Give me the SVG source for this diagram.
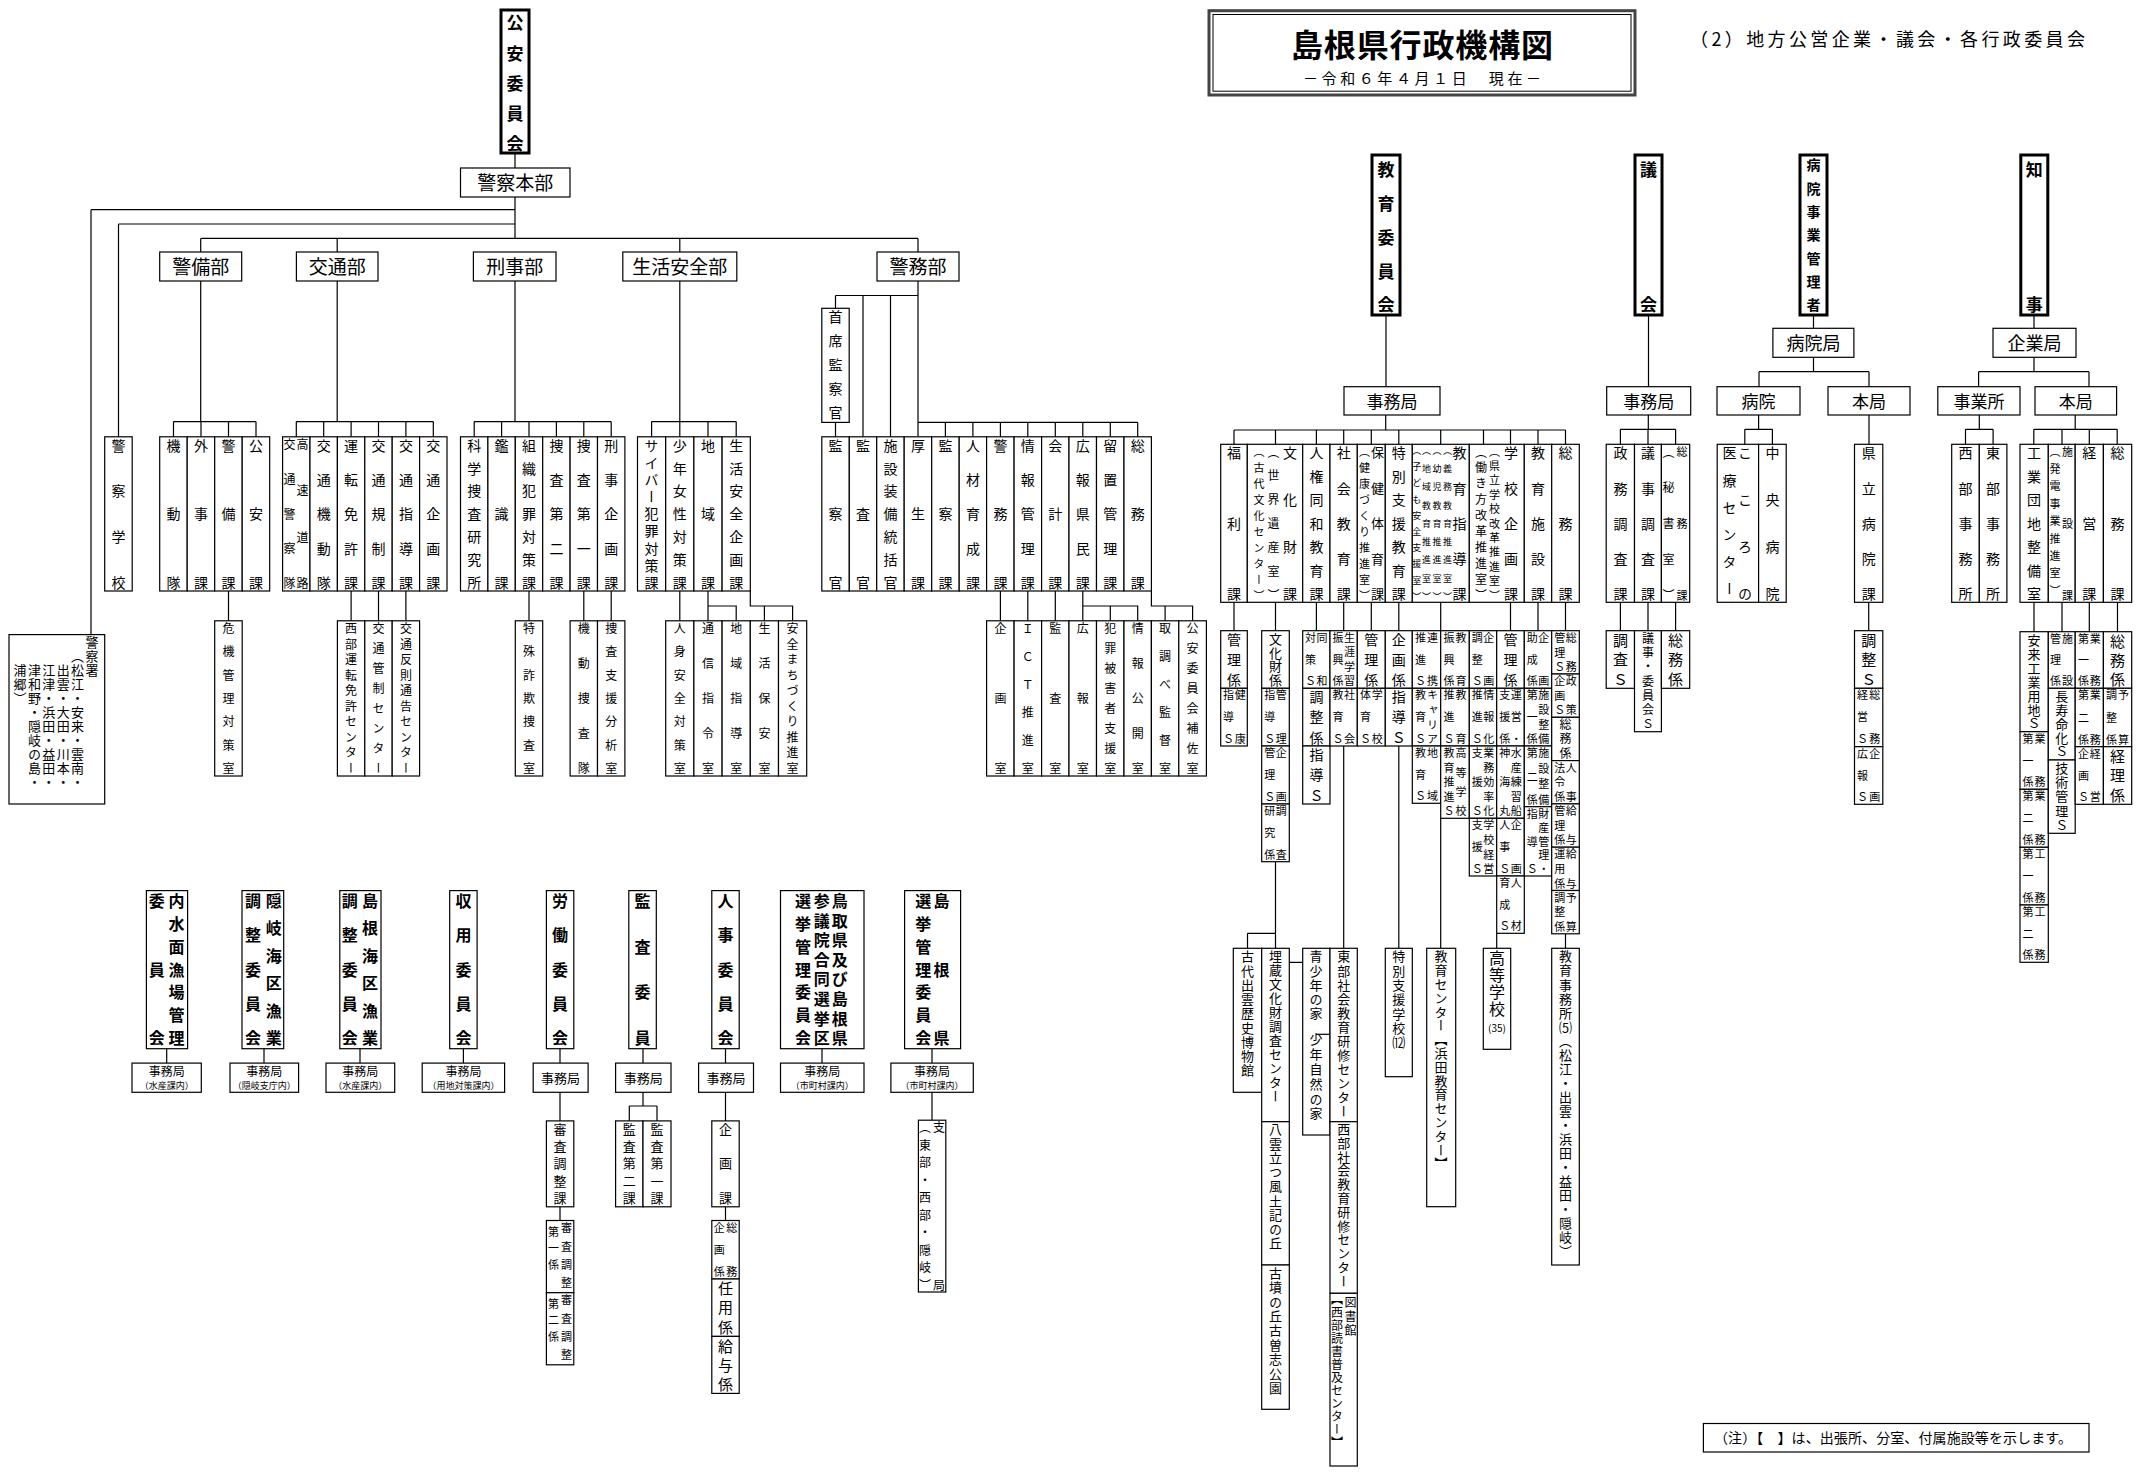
<svg xmlns="http://www.w3.org/2000/svg" width="2140" height="1477" viewBox="0 0 2140 1477">
<style>
text{font-family:"Noto Sans CJK JP","Noto Sans CJK SC",sans-serif;fill:#000}
.v{writing-mode:vertical-rl}
.r{fill:#fff;stroke:#000;stroke-width:1.2}
.k{fill:#fff;stroke:#000;stroke-width:3}
.c{fill:none;stroke:#000;stroke-width:1.2}
.m{text-anchor:middle}
.b{font-weight:700}
.f9{font-size:9px}.f10{font-size:10px}.f11{font-size:11px}.f12{font-size:12px}.f13{font-size:13px}.f14{font-size:14px}.f15{font-size:15px}.f16{font-size:16px}.f17{font-size:17px}.f18{font-size:18px}.f19{font-size:19px}
</style>
<rect width="2140" height="1477" fill="#fff"/>
<g id="connectors">
<path class="c" d="M515 153V168M515 197V238.4M91 209.7H515M91 209.7V634.6M118.5 224H515M118.5 224V436.8M200.7 238.4H918M200.7 238.4V252M337.2 238.4V252M679.8 238.4V252M918 238.4V252
M200.7 281V421.6M173.5 421.6H256M173.5 421.6V436.8M201 421.6V436.8M228.5 421.6V436.8M256 421.6V436.8
M337.2 281V421.6M296.3 421.6H433.3M296.3 421.6V436.8M323.7 421.6V436.8M351.1 421.6V436.8M378.5 421.6V436.8M405.9 421.6V436.8M433.3 421.6V436.8
M515 281V421.6M474.2 421.6H611.2M474.2 421.6V436.8M501.6 421.6V436.8M529 421.6V436.8M556.4 421.6V436.8M583.8 421.6V436.8M611.2 421.6V436.8
M679.8 281V421.6M651.6 421.6H736.2M651.6 421.6V436.8M679.8 421.6V436.8M708 421.6V436.8M736.2 421.6V436.8
M918 281V422.4M835.5 295.5H918M835.5 295.5V308.3M863 295.5V436.8M890.5 295.5V436.8M835.5 422.4V436.8M918 422.4H1137.7M945.4 422.4V436.8M972.9 422.4V436.8M1000.4 422.4V436.8M1027.8 422.4V436.8M1055.3 422.4V436.8M1082.8 422.4V436.8M1110.3 422.4V436.8M1137.7 422.4V436.8M918 422.4V436.8
M228.5 591V620.8M351.1 591V620.8M378.5 591V620.8M405.9 591V620.8M529 591V620.8M583.8 591V620.8M611.2 591V620.8M679.8 591V620.8
M708 591V620.8M708 606H736.2V620.8M750.3 591V606H792.6V620.8M764.4 606V620.8
M1000.4 591V620.8M1027.8 591V620.8M1055.3 591V620.8M1082.8 591V620.8M1082.8 606H1137.7V620.8M1110.3 606V620.8M1151.4 591V606H1192.6V620.8M1165.1 606V620.8
M1386 315V386.7M1385.7 415V430M1234 430H1565.5M1234 430V444.3M1275.5 430V444.3M1316.4 430V444.3M1343.7 430V444.3M1371.3 430V444.3M1398.8 430V444.3M1440.7 430V444.3M1483.5 430V444.3M1510.5 430V444.3M1538 430V444.3M1565.5 430V444.3
M1234 602.3V630.7M1275.5 602.3V630.7M1316.4 602.3V630.7M1343.7 602.3V630.7M1371.3 602.3V630.7M1398.8 602.3V630.7M1440.7 602.3V630.7M1510.5 602.3V630.7M1538 602.3V630.7M1565.5 602.3V630.7
M1275.5 861.7V948.3M1247.5 933.3H1275.5M1247.5 933.3V948.3M1289.3 962.3H1302.7M1343.7 746V948.3M1398.8 746V948.3M1440.7 818.3V948.3M1496.7 933.3V948.3M1565.5 933.8V948.3
M1648.5 315V386.7M1648.3 415V429.3M1620.4 429.3H1675.6M1620.4 429.3V444.3M1648 429.3V444.3M1675.6 429.3V444.3M1620.4 602.3V630.7M1648 602.3V630.7M1675.6 602.3V630.7
M1813.5 315V328.3M1813.5 357.3V371.7M1759 371.7H1869M1759 371.7V386.7M1869 371.7V386.7M1758.6 415V429.3M1744.8 429.3H1772.4M1744.8 429.3V444.3M1772.4 429.3V444.3M1869 415V444.3M1868.7 602.3V630.7
M2034 315V328.3M2034 357.3V371.7M1978.6 371.7H2089M1978.6 371.7V386.7M2089 371.7V386.7M1979.3 415V429.3M1965.5 429.3H1993.1M1965.5 429.3V444.3M1993.1 429.3V444.3M2075.2 415V429.3M2033.8 429.3H2117.2M2033.8 429.3V444.3M2062 429.3V444.3M2089.3 429.3V444.3M2117.2 429.3V444.3M2034 602.3V631.7M2062 602.3V631.7M2089.3 602.3V631.7M2117.5 602.3V631.7
M166.7 1048.7V1063.1M264 1048.7V1063.1M360 1048.7V1063.1M463.4 1048.7V1063.1M560 1048.7V1063.1M643 1048.7V1063.1M725.5 1048.7V1063.1M822 1048.7V1063.1M932 1048.7V1063.1
M560 1092.3V1120.9M560 1206.8V1220.5M643 1092.3V1106M629.3 1106H657M629.3 1106V1120.9M657 1106V1120.9M725.5 1092.3V1120.9M725.5 1206.8V1220.5M932 1092.3V1120.2"/>
</g>
<g id="title"><rect x="1209" y="10.7" width="426" height="84.3" fill="#fff" stroke="#444" stroke-width="3"/><rect x="1213" y="14.5" width="418" height="76.7" fill="none" stroke="#000" stroke-width="1"/><text class="m b" x="1422" y="57" style="font-size:32px" textLength="262">島根県行政機構図</text><text class="m f15" x="1422" y="84" textLength="238">－令和６年４月１日　現在－</text></g>
<g id="subtitle"><text class="f18" x="1690" y="46" textLength="395">（2）地方公営企業・議会・各行政委員会</text></g>
<g id="note"><rect class="r" x="1703.4" y="1423.5" width="385.6" height="28.5"/><text class="f14" x="1714" y="1443" textLength="358">（注）【　】は、出張所、分室、付属施設等を示します。</text></g>
<!-- police -->
<g id="p-koan"><rect class="k" x="501" y="10" width="28" height="143"/><text class="v b f17" x="515" y="14.5" textLength="138">公安委員会</text></g>
<g id="p-honbu"><rect class="r" x="460.5" y="168" width="109.5" height="29"/><text class="m f19" x="515.2" y="189.5">警察本部</text></g>
<g id="p-keibibu"><rect class="r" x="159.7" y="252" width="82" height="29"/><text class="m f19" x="200.7" y="273.5">警備部</text></g>
<g id="p-kotsubu"><rect class="r" x="296.4" y="252" width="81.6" height="29"/><text class="m f19" x="337.2" y="273.5">交通部</text></g>
<g id="p-keijibu"><rect class="r" x="473.4" y="252" width="82.6" height="29"/><text class="m f19" x="514.7" y="273.5">刑事部</text></g>
<g id="p-seikatsubu"><rect class="r" x="622.8" y="252" width="114" height="29"/><text class="m f19" x="679.8" y="273.5">生活安全部</text></g>
<g id="p-keimubu"><rect class="r" x="877" y="252" width="82" height="29"/><text class="m f19" x="918" y="273.5">警務部</text></g>
<g id="p-keisatsusho"><rect class="r" x="9" y="634.6" width="95.7" height="169.4"/><text class="v f13" x="92" y="635.5" style="letter-spacing:1px">警察署</text><text class="v f13" x="77.6" y="649.5" style="letter-spacing:1px">（松江・安来・雲南・</text><text class="v f13" x="63.2" y="663.5" style="letter-spacing:1px">出雲・大田・川本・</text><text class="v f13" x="48.8" y="663.5" style="letter-spacing:1px">江津・浜田・益田・</text><text class="v f13" x="34.4" y="663.5" style="letter-spacing:1px">津和野・隠岐の島・</text><text class="v f13" x="20" y="663.5" style="letter-spacing:1px">浦郷）</text></g>
<g id="p-gakko"><rect class="r" x="104.7" y="436.8" width="27.5" height="154.2"/><text class="v f14" x="118.5" y="438.5" textLength="151">警察学校</text></g>
<g id="p-kidotai"><rect class="r" x="159.7" y="436.8" width="27.5" height="154.2"/><text class="v f14" x="173.5" y="438.5" textLength="151">機動隊</text></g>
<g id="p-gaiji"><rect class="r" x="187.2" y="436.8" width="27.5" height="154.2"/><text class="v f14" x="201" y="438.5" textLength="151">外事課</text></g>
<g id="p-keibika"><rect class="r" x="214.7" y="436.8" width="27.5" height="154.2"/><text class="v f14" x="228.5" y="438.5" textLength="151">警備課</text></g>
<g id="p-koanka"><rect class="r" x="242.2" y="436.8" width="27.5" height="154.2"/><text class="v f14" x="256" y="438.5" textLength="151">公安課</text></g>
<g id="p-kosoku"><rect class="r" x="282.6" y="436.8" width="27.4" height="154.2"/><text class="v f12" x="302.5" y="438.5" textLength="151">高速道路</text><text class="v f12" x="289.5" y="438.5" textLength="151">交通警察隊</text></g>
<g id="p-kotsukido"><rect class="r" x="310" y="436.8" width="27.4" height="154.2"/><text class="v f14" x="323.7" y="438.5" textLength="151">交通機動隊</text></g>
<g id="p-menkyo"><rect class="r" x="337.4" y="436.8" width="27.4" height="154.2"/><text class="v f14" x="351.1" y="438.5" textLength="151">運転免許課</text></g>
<g id="p-kisei"><rect class="r" x="364.8" y="436.8" width="27.4" height="154.2"/><text class="v f14" x="378.5" y="438.5" textLength="151">交通規制課</text></g>
<g id="p-kotsushido"><rect class="r" x="392.2" y="436.8" width="27.4" height="154.2"/><text class="v f14" x="405.9" y="438.5" textLength="151">交通指導課</text></g>
<g id="p-kotsukikaku"><rect class="r" x="419.6" y="436.8" width="27.4" height="154.2"/><text class="v f14" x="433.3" y="438.5" textLength="151">交通企画課</text></g>
<g id="p-kaken"><rect class="r" x="460.5" y="436.8" width="27.4" height="154.2"/><text class="v f14" x="474.2" y="438.5" textLength="151">科学捜査研究所</text></g>
<g id="p-kanshiki"><rect class="r" x="487.9" y="436.8" width="27.4" height="154.2"/><text class="v f14" x="501.6" y="438.5" textLength="151">鑑識課</text></g>
<g id="p-soshiki"><rect class="r" x="515.3" y="436.8" width="27.4" height="154.2"/><text class="v f14" x="529" y="438.5" textLength="151">組織犯罪対策課</text></g>
<g id="p-sosa2"><rect class="r" x="542.7" y="436.8" width="27.4" height="154.2"/><text class="v f14" x="556.4" y="438.5" textLength="151">捜査第二課</text></g>
<g id="p-sosa1"><rect class="r" x="570.1" y="436.8" width="27.4" height="154.2"/><text class="v f14" x="583.8" y="438.5" textLength="151">捜査第一課</text></g>
<g id="p-keijikikaku"><rect class="r" x="597.5" y="436.8" width="27.4" height="154.2"/><text class="v f14" x="611.2" y="438.5" textLength="151">刑事企画課</text></g>
<g id="p-cyber"><rect class="r" x="637.5" y="436.8" width="28.2" height="154.2"/><text class="v f14" x="651.6" y="438.5" textLength="151">サイバー犯罪対策課</text></g>
<g id="p-shonen"><rect class="r" x="665.7" y="436.8" width="28.2" height="154.2"/><text class="v f14" x="679.8" y="438.5" textLength="151">少年女性対策課</text></g>
<g id="p-chiiki"><rect class="r" x="693.9" y="436.8" width="28.2" height="154.2"/><text class="v f14" x="708" y="438.5" textLength="151">地域課</text></g>
<g id="p-seikatsukikaku"><rect class="r" x="722.1" y="436.8" width="28.2" height="154.2"/><text class="v f14" x="736.2" y="438.5" textLength="151">生活安全企画課</text></g>
<g id="p-shuseki"><rect class="r" x="821.8" y="308.3" width="27.4" height="114.1"/><text class="v f14" x="835.5" y="310" textLength="110">首席監察官</text></g>
<g id="p-kansatsukan"><rect class="r" x="821.8" y="436.8" width="27.5" height="154.2"/><text class="v f14" x="835.5" y="438.5" textLength="151">監察官</text></g>
<g id="p-kansakan"><rect class="r" x="849.3" y="436.8" width="27.4" height="154.2"/><text class="v f14" x="863" y="438.5" textLength="151">監査官</text></g>
<g id="p-shisetsu"><rect class="r" x="876.7" y="436.8" width="27.5" height="154.2"/><text class="v f14" x="890.5" y="438.5" textLength="151">施設装備統括官</text></g>
<g id="p-kosei"><rect class="r" x="904.2" y="436.8" width="27.5" height="154.2"/><text class="v f14" x="918" y="438.5" textLength="151">厚生課</text></g>
<g id="p-kansatsuka"><rect class="r" x="931.7" y="436.8" width="27.5" height="154.2"/><text class="v f14" x="945.4" y="438.5" textLength="151">監察課</text></g>
<g id="p-jinzai"><rect class="r" x="959.2" y="436.8" width="27.4" height="154.2"/><text class="v f14" x="972.9" y="438.5" textLength="151">人材育成課</text></g>
<g id="p-keimuka"><rect class="r" x="986.6" y="436.8" width="27.5" height="154.2"/><text class="v f14" x="1000.4" y="438.5" textLength="151">警務課</text></g>
<g id="p-joho"><rect class="r" x="1014.1" y="436.8" width="27.5" height="154.2"/><text class="v f14" x="1027.8" y="438.5" textLength="151">情報管理課</text></g>
<g id="p-kaikei"><rect class="r" x="1041.6" y="436.8" width="27.4" height="154.2"/><text class="v f14" x="1055.3" y="438.5" textLength="151">会計課</text></g>
<g id="p-koho"><rect class="r" x="1069" y="436.8" width="27.5" height="154.2"/><text class="v f14" x="1082.8" y="438.5" textLength="151">広報県民課</text></g>
<g id="p-ryuchi"><rect class="r" x="1096.5" y="436.8" width="27.5" height="154.2"/><text class="v f14" x="1110.3" y="438.5" textLength="151">留置管理課</text></g>
<g id="p-somuka"><rect class="r" x="1124" y="436.8" width="27.4" height="154.2"/><text class="v f14" x="1137.7" y="438.5" textLength="151">総務課</text></g>
<g id="p-kiki"><rect class="r" x="214.7" y="620.8" width="27.5" height="155.2"/><text class="v f12" x="228.5" y="622.5" textLength="152">危機管理対策室</text></g>
<g id="p-seibumenkyo"><rect class="r" x="337.4" y="620.8" width="27.4" height="155.2"/><text class="v f12" x="351.1" y="622.5" textLength="152">西部運転免許センター</text></g>
<g id="p-kansei"><rect class="r" x="364.8" y="620.8" width="27.4" height="155.2"/><text class="v f12" x="378.5" y="622.5" textLength="152">交通管制センター</text></g>
<g id="p-hansoku"><rect class="r" x="392.2" y="620.8" width="27.4" height="155.2"/><text class="v f12" x="405.9" y="622.5" textLength="152">交通反則通告センター</text></g>
<g id="p-tokusagi"><rect class="r" x="515.3" y="620.8" width="27.4" height="155.2"/><text class="v f12" x="529" y="622.5" textLength="152">特殊詐欺捜査室</text></g>
<g id="p-kidososa"><rect class="r" x="570.1" y="620.8" width="27.4" height="155.2"/><text class="v f12" x="583.8" y="622.5" textLength="152">機動捜査隊</text></g>
<g id="p-sosashien"><rect class="r" x="597.5" y="620.8" width="27.4" height="155.2"/><text class="v f12" x="611.2" y="622.5" textLength="152">捜査支援分析室</text></g>
<g id="p-jinshin"><rect class="r" x="665.7" y="620.8" width="28.2" height="155.2"/><text class="v f12" x="679.8" y="622.5" textLength="152">人身安全対策室</text></g>
<g id="p-tsushin"><rect class="r" x="693.9" y="620.8" width="28.2" height="155.2"/><text class="v f12" x="708" y="622.5" textLength="152">通信指令室</text></g>
<g id="p-chiikishido"><rect class="r" x="722.1" y="620.8" width="28.2" height="155.2"/><text class="v f12" x="736.2" y="622.5" textLength="152">地域指導室</text></g>
<g id="p-hoan"><rect class="r" x="750.3" y="620.8" width="28.2" height="155.2"/><text class="v f12" x="764.4" y="622.5" textLength="152">生活保安室</text></g>
<g id="p-machizukuri"><rect class="r" x="778.5" y="620.8" width="28.2" height="155.2"/><text class="v f12" x="792.6" y="622.5" textLength="152">安全まちづくり推進室</text></g>
<g id="p-kikakushitsu"><rect class="r" x="986.6" y="620.8" width="27.5" height="155.2"/><text class="v f12" x="1000.4" y="622.5" textLength="152">企画室</text></g>
<g id="p-ict"><rect class="r" x="1014.1" y="620.8" width="27.5" height="155.2"/><text class="v f12" x="1027.8" y="622.5" textLength="152">ＩＣＴ推進室</text></g>
<g id="p-kansashitsu"><rect class="r" x="1041.6" y="620.8" width="27.4" height="155.2"/><text class="v f12" x="1055.3" y="622.5" textLength="152">監査室</text></g>
<g id="p-kohoshitsu"><rect class="r" x="1069" y="620.8" width="27.5" height="155.2"/><text class="v f12" x="1082.8" y="622.5" textLength="152">広報室</text></g>
<g id="p-higaisha"><rect class="r" x="1096.5" y="620.8" width="27.5" height="155.2"/><text class="v f12" x="1110.3" y="622.5" textLength="152">犯罪被害者支援室</text></g>
<g id="p-kokai"><rect class="r" x="1124" y="620.8" width="27.4" height="155.2"/><text class="v f12" x="1137.7" y="622.5" textLength="152">情報公開室</text></g>
<g id="p-torishirabe"><rect class="r" x="1151.4" y="620.8" width="27.4" height="155.2"/><text class="v f12" x="1165.1" y="622.5" textLength="152">取調べ監督室</text></g>
<g id="p-hosa"><rect class="r" x="1178.8" y="620.8" width="27.6" height="155.2"/><text class="v f12" x="1192.6" y="622.5" textLength="152">公安委員会補佐室</text></g>
<!-- education -->
<g id="e-iinkai"><rect class="k" x="1372" y="155" width="28" height="160"/><text class="v b f17" x="1386" y="161.5" textLength="152">教育委員会</text></g>
<g id="e-jimukyoku"><rect class="r" x="1344" y="386.7" width="96" height="28.3"/><text class="m f17" x="1392" y="407.5">事務局</text></g>
<g id="e-fukurika"><rect class="r" x="1220.7" y="444.3" width="26.6" height="158"/><text class="v f14" x="1234" y="446" textLength="155">福利課</text></g>
<g id="e-bunkazaika"><rect class="r" x="1247.3" y="444.3" width="55.4" height="158"/><text class="v f14" x="1290" y="446" textLength="155">文化財課</text><text class="v f12" x="1273.5" y="446" textLength="155">（世界遺産室）</text><text class="v f11" x="1259" y="446" textLength="155">（古代文化センター）</text></g>
<g id="e-jinkenka"><rect class="r" x="1302.7" y="444.3" width="27.3" height="158"/><text class="v f14" x="1316.4" y="446" textLength="155">人権同和教育課</text></g>
<g id="e-shakaika"><rect class="r" x="1330" y="444.3" width="27.3" height="158"/><text class="v f14" x="1343.7" y="446" textLength="155">社会教育課</text></g>
<g id="e-hokenka"><rect class="r" x="1357.3" y="444.3" width="28" height="158"/><text class="v f13" x="1377.5" y="446" textLength="155">保健体育課</text><text class="v f11" x="1364.5" y="446" textLength="155">（健康づくり推進室）</text></g>
<g id="e-tokubetsuka"><rect class="r" x="1385.3" y="444.3" width="27" height="158"/><text class="v f14" x="1398.8" y="446" textLength="155">特別支援教育課</text></g>
<g id="e-shidoka"><rect class="r" x="1412.3" y="444.3" width="57" height="158"/><text class="v f14" x="1459.5" y="446" textLength="155">教育指導課</text><text class="v f9" x="1447.5" y="446" textLength="155">（義務教育推進室）</text><text class="v f9" x="1437" y="446" textLength="155">（幼児教育推進室）</text><text class="v f9" x="1426.5" y="446" textLength="155">（地域教育推進室）</text><text class="v f9" x="1416.8" y="446" textLength="155">（子ども安全支援室）</text></g>
<g id="e-gakkoka"><rect class="r" x="1469.3" y="444.3" width="55" height="158"/><text class="v f14" x="1511" y="446" textLength="155">学校企画課</text><text class="v f11" x="1494.5" y="446" textLength="155">（県立学校改革推進室）</text><text class="v f12" x="1481" y="446" textLength="155">（働き方改革推進室）</text></g>
<g id="e-shisetsuka"><rect class="r" x="1524.3" y="444.3" width="27.4" height="158"/><text class="v f14" x="1538" y="446" textLength="155">教育施設課</text></g>
<g id="e-somuka"><rect class="r" x="1551.7" y="444.3" width="27.6" height="158"/><text class="v f14" x="1565.5" y="446" textLength="155">総務課</text></g>
<g id="e-fukuri-kanri"><rect class="r" x="1220.7" y="630.7" width="26.6" height="57.6"/><text class="v f14" x="1234" y="632.2" textLength="54.6">管理係</text></g>
<g id="e-fukuri-kenko"><rect class="r" x="1220.7" y="688.3" width="26.6" height="57.7"/><text class="v f11" x="1240.2" y="689.8" textLength="54.7">健康</text><text class="v f11" x="1228.5" y="689.8" textLength="54.7">指導Ｓ</text></g>
<g id="e-bunka-kakari"><rect class="r" x="1261.7" y="630.7" width="27.6" height="57.6"/><text class="v f13" x="1275.5" y="632.2" textLength="54.6">文化財係</text></g>
<g id="e-bunka-kanri"><rect class="r" x="1261.7" y="688.3" width="27.6" height="57.7"/><text class="v f11" x="1281.3" y="689.8" textLength="54.7">管理</text><text class="v f11" x="1269.7" y="689.8" textLength="54.7">指導Ｓ</text></g>
<g id="e-bunka-kikaku"><rect class="r" x="1261.7" y="746" width="27.6" height="58"/><text class="v f11" x="1281.3" y="747.5" textLength="55">企画</text><text class="v f11" x="1269.7" y="747.5" textLength="55">管理Ｓ</text></g>
<g id="e-bunka-chosa"><rect class="r" x="1261.7" y="804" width="27.6" height="57.7"/><text class="v f11" x="1281.3" y="805.5" textLength="54.7">調査</text><text class="v f11" x="1269.7" y="805.5" textLength="54.7">研究係</text></g>
<g id="e-jinken-dowa"><rect class="r" x="1302.7" y="630.7" width="27.3" height="57.6"/><text class="v f11" x="1322.1" y="632.2" textLength="54.6">同和</text><text class="v f11" x="1310.6" y="632.2" textLength="54.6">対策Ｓ</text></g>
<g id="e-jinken-chosei"><rect class="r" x="1302.7" y="688.3" width="27.3" height="57.7"/><text class="v f14" x="1316.4" y="689.8" textLength="54.7">調整係</text></g>
<g id="e-jinken-shido"><rect class="r" x="1302.7" y="746" width="27.3" height="58"/><text class="v f14" x="1316.4" y="747.5" textLength="55">指導Ｓ</text></g>
<g id="e-shakai-shogai"><rect class="r" x="1330" y="630.7" width="27.3" height="57.6"/><text class="v f11" x="1349.4" y="632.2" textLength="54.6">生涯学習</text><text class="v f11" x="1337.9" y="632.2" textLength="54.6">振興係</text></g>
<g id="e-shakai-kyoiku"><rect class="r" x="1330" y="688.3" width="27.3" height="57.7"/><text class="v f11" x="1349.4" y="689.8" textLength="54.7">社会</text><text class="v f11" x="1337.9" y="689.8" textLength="54.7">教育Ｓ</text></g>
<g id="e-hoken-kanri"><rect class="r" x="1357.3" y="630.7" width="28" height="57.6"/><text class="v f14" x="1371.3" y="632.2" textLength="54.6">管理係</text></g>
<g id="e-hoken-gakko"><rect class="r" x="1357.3" y="688.3" width="28" height="57.7"/><text class="v f11" x="1377.2" y="689.8" textLength="54.7">学校</text><text class="v f11" x="1365.4" y="689.8" textLength="54.7">体育Ｓ</text></g>
<g id="e-toku-kikaku"><rect class="r" x="1385.3" y="630.7" width="27" height="57.6"/><text class="v f14" x="1398.8" y="632.2" textLength="54.6">企画係</text></g>
<g id="e-toku-shido"><rect class="r" x="1385.3" y="688.3" width="27" height="57.7"/><text class="v f14" x="1398.8" y="689.8" textLength="54.7">指導Ｓ</text></g>
<g id="e-a-renkei"><rect class="r" x="1412.3" y="630.7" width="28.4" height="57.6"/><text class="v f11" x="1432.5" y="632.2" textLength="54.6">連携</text><text class="v f11" x="1420.5" y="632.2" textLength="54.6">推進Ｓ</text></g>
<g id="e-a-career"><rect class="r" x="1412.3" y="688.3" width="28.4" height="57.7"/><text class="v f11" x="1432.5" y="689.8" textLength="54.7">キャリア</text><text class="v f11" x="1420.5" y="689.8" textLength="54.7">教育Ｓ</text></g>
<g id="e-a-chiiki"><rect class="r" x="1412.3" y="746" width="28.4" height="57.3"/><text class="v f11" x="1432.5" y="747.5" textLength="54.3">地域</text><text class="v f11" x="1420.5" y="747.5" textLength="54.3">教育Ｓ</text></g>
<g id="e-b-shinko"><rect class="r" x="1440.7" y="630.7" width="28.6" height="57.6"/><text class="v f11" x="1461" y="632.2" textLength="54.6">教育</text><text class="v f11" x="1449" y="632.2" textLength="54.6">振興係</text></g>
<g id="e-b-suishin"><rect class="r" x="1440.7" y="688.3" width="28.6" height="57.7"/><text class="v f11" x="1461" y="689.8" textLength="54.7">教育</text><text class="v f11" x="1449" y="689.8" textLength="54.7">推進Ｓ</text></g>
<g id="e-b-koto"><rect class="r" x="1440.7" y="746" width="28.6" height="72.3"/><text class="v f11" x="1461" y="747.5" textLength="69.3">高等学校</text><text class="v f11" x="1449" y="747.5" textLength="69.3">教育推進Ｓ</text></g>
<g id="e-c-chosei"><rect class="r" x="1469.3" y="630.7" width="27.4" height="57.6"/><text class="v f11" x="1488.8" y="632.2" textLength="54.6">企画</text><text class="v f11" x="1477.3" y="632.2" textLength="54.6">調整Ｓ</text></g>
<g id="e-c-johoka"><rect class="r" x="1469.3" y="688.3" width="27.4" height="57.7"/><text class="v f11" x="1488.8" y="689.8" textLength="54.7">情報化</text><text class="v f11" x="1477.3" y="689.8" textLength="54.7">推進Ｓ</text></g>
<g id="e-c-koritsu"><rect class="r" x="1469.3" y="746" width="27.4" height="72.3"/><text class="v f11" x="1488.8" y="747.5" textLength="69.3">業務効率化</text><text class="v f11" x="1477.3" y="747.5" textLength="69.3">支援Ｓ</text></g>
<g id="e-c-keiei"><rect class="r" x="1469.3" y="818.3" width="27.4" height="57.7"/><text class="v f11" x="1488.8" y="819.8" textLength="54.7">学校経営</text><text class="v f11" x="1477.3" y="819.8" textLength="54.7">支援Ｓ</text></g>
<g id="e-d-kanri"><rect class="r" x="1496.7" y="630.7" width="27.6" height="57.6"/><text class="v f14" x="1510.5" y="632.2" textLength="54.6">管理係</text></g>
<g id="e-d-unei"><rect class="r" x="1496.7" y="688.3" width="27.6" height="57.7"/><text class="v f11" x="1516.3" y="689.8" textLength="54.7">運営・</text><text class="v f11" x="1504.7" y="689.8" textLength="54.7">支援係</text></g>
<g id="e-d-kaiyo"><rect class="r" x="1496.7" y="746" width="27.6" height="72.3"/><text class="v f11" x="1516.3" y="747.5" textLength="69.3">水産練習船</text><text class="v f11" x="1504.7" y="747.5" textLength="69.3">神海丸</text></g>
<g id="e-d-jinji"><rect class="r" x="1496.7" y="818.3" width="27.6" height="57.7"/><text class="v f11" x="1516.3" y="819.8" textLength="54.7">企画</text><text class="v f11" x="1504.7" y="819.8" textLength="54.7">人事Ｓ</text></g>
<g id="e-d-jinzai"><rect class="r" x="1496.7" y="876" width="27.6" height="57.3"/><text class="v f11" x="1516.3" y="877.5" textLength="54.3">人材</text><text class="v f11" x="1504.7" y="877.5" textLength="54.3">育成Ｓ</text></g>
<g id="e-e-josei"><rect class="r" x="1524.3" y="630.7" width="27.4" height="57.6"/><text class="v f11" x="1543.8" y="632.2" textLength="54.6">企画</text><text class="v f11" x="1532.3" y="632.2" textLength="54.6">助成係</text></g>
<g id="e-e-seibi1"><rect class="r" x="1524.3" y="688.3" width="27.4" height="57.7"/><text class="v f11" x="1543.8" y="689.8" textLength="54.7">施設整備</text><text class="v f11" x="1532.3" y="689.8" textLength="54.7">第一係</text></g>
<g id="e-e-seibi2"><rect class="r" x="1524.3" y="746" width="27.4" height="60.7"/><text class="v f11" x="1543.8" y="747.5" textLength="57.7">施設整備</text><text class="v f11" x="1532.3" y="747.5" textLength="57.7">第二係</text></g>
<g id="e-e-zaisan"><rect class="r" x="1524.3" y="806.7" width="27.4" height="69.3"/><text class="v f11" x="1543.8" y="808.2" textLength="66.3">財産管理・</text><text class="v f11" x="1532.3" y="808.2" textLength="66.3">指導Ｓ</text></g>
<g id="e-f-kanri"><rect class="r" x="1551.7" y="630.7" width="27.6" height="43.3"/><text class="v f11" x="1571.3" y="632.2" textLength="40.3">総務</text><text class="v f11" x="1559.7" y="632.2" textLength="40.3">管理Ｓ</text></g>
<g id="e-f-seisaku"><rect class="r" x="1551.7" y="674" width="27.6" height="43.3"/><text class="v f11" x="1571.3" y="675.5" textLength="40.3">政策</text><text class="v f11" x="1559.7" y="675.5" textLength="40.3">企画Ｓ</text></g>
<g id="e-f-somu"><rect class="r" x="1551.7" y="717.3" width="27.6" height="43.3"/><text class="v f12" x="1565.5" y="718.8" textLength="40.3">総務係</text></g>
<g id="e-f-horei"><rect class="r" x="1551.7" y="760.6" width="27.6" height="43.3"/><text class="v f11" x="1571.3" y="762.1" textLength="40.3">人事</text><text class="v f11" x="1559.7" y="762.1" textLength="40.3">法令係</text></g>
<g id="e-f-kyuyokanri"><rect class="r" x="1551.7" y="803.9" width="27.6" height="43.3"/><text class="v f11" x="1571.3" y="805.4" textLength="40.3">給与</text><text class="v f11" x="1559.7" y="805.4" textLength="40.3">管理係</text></g>
<g id="e-f-kyuyounyo"><rect class="r" x="1551.7" y="847.2" width="27.6" height="43.3"/><text class="v f11" x="1571.3" y="848.7" textLength="40.3">給与</text><text class="v f11" x="1559.7" y="848.7" textLength="40.3">運用係</text></g>
<g id="e-f-yosan"><rect class="r" x="1551.7" y="890.5" width="27.6" height="43.3"/><text class="v f11" x="1571.3" y="892" textLength="40.3">予算</text><text class="v f11" x="1559.7" y="892" textLength="40.3">調整係</text></g>
<g id="e-kodai"><rect class="r" x="1233.3" y="948.3" width="28.4" height="144"/><text class="v f13" x="1247.5" y="950" textLength="127">古代出雲歴史博物館</text></g>
<g id="e-maizo"><rect class="r" x="1261.7" y="948.3" width="27.6" height="173.4"/><text class="v f13" x="1275.5" y="950" textLength="153">埋蔵文化財調査センター</text></g>
<g id="e-yakumo"><rect class="r" x="1261.7" y="1121.7" width="27.6" height="143.3"/><text class="v f13" x="1275.5" y="1123" textLength="127">八雲立つ風土記の丘</text></g>
<g id="e-kofun"><rect class="r" x="1261.7" y="1265" width="27.6" height="144.3"/><text class="v f13" x="1275.5" y="1266.5" textLength="128">古墳の丘古曽志公園</text></g>
<g id="e-seishonen"><rect class="r" x="1302.7" y="948.3" width="27.3" height="186.7"/><path class="c" d="M1316 1034.3H1330"/><text class="v f13" x="1316" y="950" textLength="70">青少年の家</text><text class="v f13" x="1316" y="1033" textLength="87">少年自然の家</text></g>
<g id="e-tobu"><rect class="r" x="1330" y="948.3" width="27.3" height="173.4"/><text class="v f13" x="1343.7" y="950" textLength="168">東部社会教育研修センター</text></g>
<g id="e-seibu"><rect class="r" x="1330" y="1121.7" width="27.3" height="171.6"/><text class="v f13" x="1343.7" y="1122.5" textLength="165">西部社会教育研修センター</text></g>
<g id="e-toshokan"><rect class="r" x="1330" y="1293.3" width="27.3" height="172.7"/><text class="v f12" x="1350.5" y="1296" textLength="40">図書館</text><text class="v f12" x="1337" y="1293.5" textLength="155">【西部読書普及センター】</text></g>
<g id="e-tokushi"><rect class="r" x="1385.3" y="948.3" width="27" height="128.4"/><text class="v f13" x="1398.8" y="950" textLength="99">特別支援学校⑿</text></g>
<g id="e-center"><rect class="r" x="1426.7" y="948.3" width="29" height="258.4"/><text class="v f13" x="1441" y="950" textLength="220">教育センター【浜田教育センター】</text></g>
<g id="e-koko"><rect class="r" x="1483.3" y="948.3" width="27.4" height="101"/><text class="v f16" x="1497" y="949.5" textLength="67">高等学校</text><text class="m f10" x="1497" y="1032">(35)</text></g>
<g id="e-jimusho"><rect class="r" x="1551.7" y="948.3" width="27.6" height="316.7"/><text class="v f13" x="1565.5" y="950" textLength="308">教育事務所⑸（松江・出雲・浜田・益田・隠岐）</text></g>
<!-- assembly -->
<g id="g-gikai"><rect class="k" x="1635" y="155" width="27" height="160"/><text class="v b f17" x="1648.5" y="161.5" textLength="152">議会</text></g>
<g id="g-jimukyoku"><rect class="r" x="1606.7" y="386.7" width="84" height="28.3"/><text class="m f17" x="1648.7" y="407.5">事務局</text></g>
<g id="g-seimu"><rect class="r" x="1606.2" y="444.3" width="28.3" height="158"/><text class="v f14" x="1620.4" y="446" textLength="155">政務調査課</text></g>
<g id="g-giji"><rect class="r" x="1634.5" y="444.3" width="26.9" height="158"/><text class="v f14" x="1648" y="446" textLength="155">議事調査課</text></g>
<g id="g-somu"><rect class="r" x="1661.4" y="444.3" width="28.3" height="158"/><text class="v f11" x="1682" y="446" textLength="155">総務課</text><text class="v f12" x="1668.5" y="446" textLength="155">（秘書室）</text></g>
<g id="g-chosa"><rect class="r" x="1606.2" y="630.7" width="28.3" height="57.6"/><text class="v f15" x="1620.4" y="632.5" textLength="54">調査Ｓ</text></g>
<g id="g-iinkai"><rect class="r" x="1634.5" y="630.7" width="26.9" height="101"/><text class="v f12" x="1648" y="632.5" textLength="97">議事・委員会Ｓ</text></g>
<g id="g-somukakari"><rect class="r" x="1661.4" y="630.7" width="28.3" height="57.6"/><text class="v f15" x="1675.6" y="632.5" textLength="54">総務係</text></g>
<!-- hospital -->
<g id="h-kanrisha"><rect class="k" x="1800" y="155" width="27" height="160"/><text class="v b f14" x="1813.5" y="158" textLength="154">病院事業管理者</text></g>
<g id="h-byoinkyoku"><rect class="r" x="1772.9" y="328.3" width="81" height="29"/><text class="m f18" x="1813.4" y="349.5">病院局</text></g>
<g id="h-byoin"><rect class="r" x="1717" y="386.7" width="83" height="28.3"/><text class="m f17" x="1758.5" y="407.5">病院</text></g>
<g id="h-honkyoku"><rect class="r" x="1828" y="386.7" width="82" height="28.3"/><text class="m f17" x="1869" y="407.5">本局</text></g>
<g id="h-kokoro"><rect class="r" x="1717.2" y="444.3" width="41.4" height="158"/><text class="v f14" x="1745" y="446" textLength="155">こころの</text><text class="v f14" x="1729.5" y="446" textLength="150">医療センター</text></g>
<g id="h-chuo"><rect class="r" x="1758.6" y="444.3" width="27.6" height="158"/><text class="v f14" x="1772.4" y="446" textLength="155">中央病院</text></g>
<g id="h-kenritsu"><rect class="r" x="1854.5" y="444.3" width="28.3" height="158"/><text class="v f14" x="1868.7" y="446" textLength="155">県立病院課</text></g>
<g id="h-chosei"><rect class="r" x="1854.5" y="630.7" width="28.3" height="57.6"/><text class="v f15" x="1868.7" y="632.5" textLength="54">調整Ｓ</text></g>
<g id="h-somu"><rect class="r" x="1854.5" y="688.3" width="28.3" height="58.4"/><text class="v f11" x="1874.8" y="689.8" textLength="55">総務</text><text class="v f11" x="1862.5" y="689.8" textLength="55">経営Ｓ</text></g>
<g id="h-kikaku"><rect class="r" x="1854.5" y="746.7" width="28.3" height="57.6"/><text class="v f11" x="1874.8" y="748.2" textLength="54.6">企画</text><text class="v f11" x="1862.5" y="748.2" textLength="54.6">広報Ｓ</text></g>
<!-- enterprise -->
<g id="k-chiji"><rect class="k" x="2020.8" y="155" width="27" height="160"/><text class="v b f17" x="2034.3" y="161.5" textLength="152">知事</text></g>
<g id="k-kigyokyoku"><rect class="r" x="1993" y="328.3" width="83" height="29"/><text class="m f18" x="2034.5" y="349.5">企業局</text></g>
<g id="k-jigyosho"><rect class="r" x="1937.8" y="386.7" width="82.2" height="28.3"/><text class="m f17" x="1979" y="407.5">事業所</text></g>
<g id="k-honkyoku"><rect class="r" x="2035" y="386.7" width="81.6" height="28.3"/><text class="m f17" x="2075.8" y="407.5">本局</text></g>
<g id="k-seibu"><rect class="r" x="1951.7" y="444.3" width="27.6" height="158"/><text class="v f14" x="1965.5" y="446" textLength="155">西部事務所</text></g>
<g id="k-tobu"><rect class="r" x="1979.3" y="444.3" width="27.6" height="158"/><text class="v f14" x="1993.1" y="446" textLength="155">東部事務所</text></g>
<g id="k-kogyo"><rect class="r" x="2020" y="444.3" width="28.3" height="158"/><text class="v f14" x="2034" y="446" textLength="155">工業団地整備室</text></g>
<g id="k-shisetsu"><rect class="r" x="2048.3" y="444.3" width="26.9" height="158"/><text class="v f11" x="2067.5" y="446" textLength="155">施設課</text><text class="v f11" x="2055" y="446" textLength="150">（発電事業推進室）</text></g>
<g id="k-keiei"><rect class="r" x="2075.2" y="444.3" width="28.2" height="158"/><text class="v f14" x="2089.3" y="446" textLength="155">経営課</text></g>
<g id="k-somu"><rect class="r" x="2103.4" y="444.3" width="28.3" height="158"/><text class="v f14" x="2117.5" y="446" textLength="155">総務課</text></g>
<g id="k-yasugi"><rect class="r" x="2020" y="631.7" width="28.3" height="100"/><text class="v f13" x="2034" y="633.2" textLength="97">安来工業用地Ｓ</text></g>
<g id="k-gyomu1"><rect class="r" x="2020" y="731.7" width="28.3" height="57.6"/><text class="v f11" x="2040" y="733.2" textLength="54.6">業務</text><text class="v f11" x="2028" y="733.2" textLength="54.6">第一係</text></g>
<g id="k-gyomu2"><rect class="r" x="2020" y="789.3" width="28.3" height="58"/><text class="v f11" x="2040" y="790.8" textLength="55">業務</text><text class="v f11" x="2028" y="790.8" textLength="55">第二係</text></g>
<g id="k-komu1"><rect class="r" x="2020" y="847.3" width="28.3" height="57.7"/><text class="v f11" x="2040" y="848.8" textLength="54.7">工務</text><text class="v f11" x="2028" y="848.8" textLength="54.7">第一係</text></g>
<g id="k-komu2"><rect class="r" x="2020" y="905" width="28.3" height="57.3"/><text class="v f11" x="2040" y="906.5" textLength="54.3">工務</text><text class="v f11" x="2028" y="906.5" textLength="54.3">第二係</text></g>
<g id="k-shisetsukanri"><rect class="r" x="2048.3" y="631.7" width="26.9" height="56.6"/><text class="v f11" x="2067.5" y="633.2" textLength="53.6">施設</text><text class="v f11" x="2055.5" y="633.2" textLength="53.6">管理係</text></g>
<g id="k-chojumyo"><rect class="r" x="2048.3" y="688.3" width="26.9" height="71.7"/><text class="v f13" x="2061.7" y="690" textLength="68">長寿命化Ｓ</text></g>
<g id="k-gijutsu"><rect class="r" x="2048.3" y="760" width="26.9" height="73.3"/><text class="v f13" x="2061.7" y="761.5" textLength="70">技術管理Ｓ</text></g>
<g id="k-keiei1"><rect class="r" x="2075.2" y="631.7" width="28.2" height="56.6"/><text class="v f11" x="2095.3" y="633.2" textLength="53.6">業務</text><text class="v f11" x="2083.4" y="633.2" textLength="53.6">第一係</text></g>
<g id="k-keiei2"><rect class="r" x="2075.2" y="688.3" width="28.2" height="58.4"/><text class="v f11" x="2095.3" y="689.8" textLength="55.4">業務</text><text class="v f11" x="2083.4" y="689.8" textLength="55.4">第二係</text></g>
<g id="k-keieikikaku"><rect class="r" x="2075.2" y="746.7" width="28.2" height="57.6"/><text class="v f11" x="2095.3" y="748.2" textLength="54.6">経営</text><text class="v f11" x="2083.4" y="748.2" textLength="54.6">企画Ｓ</text></g>
<g id="k-somukakari"><rect class="r" x="2103.4" y="631.7" width="28.3" height="56.6"/><text class="v f15" x="2117.5" y="633.5" textLength="53">総務係</text></g>
<g id="k-yosan"><rect class="r" x="2103.4" y="688.3" width="28.3" height="58.4"/><text class="v f11" x="2123.5" y="689.8" textLength="55.4">予算</text><text class="v f11" x="2111.6" y="689.8" textLength="55.4">調整係</text></g>
<g id="k-keiri"><rect class="r" x="2103.4" y="746.7" width="28.3" height="57.6"/><text class="v f15" x="2117.5" y="748.5" textLength="54">経理係</text></g>
<!-- committees -->
<g id="c-naisuimen"><rect class="r" x="146.4" y="890.6" width="41.2" height="158.1"/><text class="v b f16" x="176.6" y="893" textLength="153">内水面漁場管理</text><text class="v b f16" x="156.8" y="893" textLength="153">委員会</text></g>
<g id="c-naisuimen-j"><rect class="r" x="132" y="1063.1" width="69.3" height="29.2"/><text class="m f12" x="166.7" y="1076">事務局</text><text class="m f9" x="166.7" y="1088.5">（水産課内）</text></g>
<g id="c-oki"><rect class="r" x="242" y="890.6" width="41.7" height="158.1"/><text class="v b f16" x="273.8" y="893" textLength="153">隠岐海区漁業</text><text class="v b f16" x="253" y="893" textLength="153">調整委員会</text></g>
<g id="c-oki-j"><rect class="r" x="230" y="1063.1" width="68.6" height="29.2"/><text class="m f12" x="264.3" y="1076">事務局</text><text class="m f9" x="264.3" y="1088.5">（隠岐支庁内）</text></g>
<g id="c-shimane"><rect class="r" x="339.8" y="890.6" width="41.2" height="158.1"/><text class="v b f16" x="370" y="893" textLength="153">島根海区漁業</text><text class="v b f16" x="349.7" y="893" textLength="153">調整委員会</text></g>
<g id="c-shimane-j"><rect class="r" x="326" y="1063.1" width="68.7" height="29.2"/><text class="m f12" x="360.3" y="1076">事務局</text><text class="m f9" x="360.3" y="1088.5">（水産課内）</text></g>
<g id="c-shuyo"><rect class="r" x="449.7" y="890.6" width="27.4" height="158.1"/><text class="v b f16" x="463.4" y="893" textLength="153">収用委員会</text></g>
<g id="c-shuyo-j"><rect class="r" x="422.2" y="1063.1" width="82.4" height="29.2"/><text class="m f12" x="463.4" y="1076">事務局</text><text class="m f9" x="463.4" y="1088.5">（用地対策課内）</text></g>
<g id="c-rodo"><rect class="r" x="546.4" y="890.6" width="27.4" height="158.1"/><text class="v b f16" x="560" y="893" textLength="153">労働委員会</text></g>
<g id="c-rodo-j"><rect class="r" x="533.2" y="1063.1" width="54.9" height="29.2"/><text class="m f13" x="560.6" y="1082.5">事務局</text></g>
<g id="c-rodo-shinsa"><rect class="r" x="546.4" y="1120.9" width="27.4" height="85.9"/><text class="v f13" x="560" y="1122.5" textLength="82">審査調整課</text></g>
<g id="c-rodo-1"><rect class="r" x="546.4" y="1220.5" width="27.4" height="72.2"/><text class="v f11" x="566.5" y="1222.5" textLength="66">審査調整</text><text class="v f11" x="553.5" y="1226" textLength="44">第一係</text></g>
<g id="c-rodo-2"><rect class="r" x="546.4" y="1292.7" width="27.4" height="72.1"/><text class="v f11" x="566.5" y="1294.7" textLength="66">審査調整</text><text class="v f11" x="553.5" y="1298" textLength="44">第二係</text></g>
<g id="c-kansa"><rect class="r" x="628.8" y="890.6" width="27.5" height="158.1"/><text class="v b f16" x="642.5" y="893" textLength="153">監査委員</text></g>
<g id="c-kansa-j"><rect class="r" x="615.6" y="1063.1" width="55.4" height="29.2"/><text class="m f13" x="643.3" y="1082.5">事務局</text></g>
<g id="c-kansa-2"><rect class="r" x="615.6" y="1120.9" width="27.4" height="85.9"/><text class="v f13" x="629.3" y="1122.5" textLength="82">監査第二課</text></g>
<g id="c-kansa-1"><rect class="r" x="643" y="1120.9" width="28" height="85.9"/><text class="v f13" x="657" y="1122.5" textLength="82">監査第一課</text></g>
<g id="c-jinji"><rect class="r" x="711.8" y="890.6" width="27.4" height="158.1"/><text class="v b f16" x="725.5" y="893" textLength="153">人事委員会</text></g>
<g id="c-jinji-j"><rect class="r" x="698.6" y="1063.1" width="54.9" height="29.2"/><text class="m f13" x="726" y="1082.5">事務局</text></g>
<g id="c-jinji-kikaku"><rect class="r" x="711.8" y="1120.9" width="27.4" height="85.9"/><text class="v f13" x="725.5" y="1122.5" textLength="82">企画課</text></g>
<g id="c-jinji-somu"><rect class="r" x="711.8" y="1220.5" width="27.4" height="58.5"/><text class="v f11" x="731.7" y="1222" textLength="55.5">総務</text><text class="v f11" x="719.3" y="1222" textLength="55.5">企画係</text></g>
<g id="c-jinji-ninyo"><rect class="r" x="711.8" y="1279" width="27.4" height="57.4"/><text class="v f15" x="725.5" y="1281" textLength="53.4">任用係</text></g>
<g id="c-jinji-kyuyo"><rect class="r" x="711.8" y="1336.4" width="27.4" height="57"/><text class="v f15" x="725.5" y="1338.4" textLength="53">給与係</text></g>
<g id="c-sangiin"><rect class="r" x="780.5" y="890.6" width="83.5" height="158.1"/><text class="v b f16" x="839.8" y="893" textLength="153">鳥取県及び島根県</text><text class="v b f16" x="821.7" y="893" textLength="153">参議院合同選挙区</text><text class="v b f16" x="803" y="893" textLength="153">選挙管理委員会</text></g>
<g id="c-sangiin-j"><rect class="r" x="780.5" y="1063.1" width="83.5" height="29.2"/><text class="m f12" x="822.3" y="1076">事務局</text><text class="m f9" x="822.3" y="1088.5">（市町村課内）</text></g>
<g id="c-senkyo"><rect class="r" x="904.6" y="890.6" width="56" height="158.1"/><text class="v b f16" x="941.4" y="893" textLength="153">島根県</text><text class="v b f16" x="923.3" y="893" textLength="153">選挙管理委員会</text></g>
<g id="c-senkyo-j"><rect class="r" x="890.9" y="1063.1" width="82.4" height="29.2"/><text class="m f12" x="932" y="1076">事務局</text><text class="m f9" x="932" y="1088.5">（市町村課内）</text></g>
<g id="c-senkyo-shikyoku"><rect class="r" x="918.4" y="1120.2" width="27.4" height="171.8"/><text class="v f12" x="939" y="1121.5" textLength="170">支局</text><text class="v f12" x="925" y="1121.5" textLength="170">（東部・西部・隠岐）</text></g>
</svg>
